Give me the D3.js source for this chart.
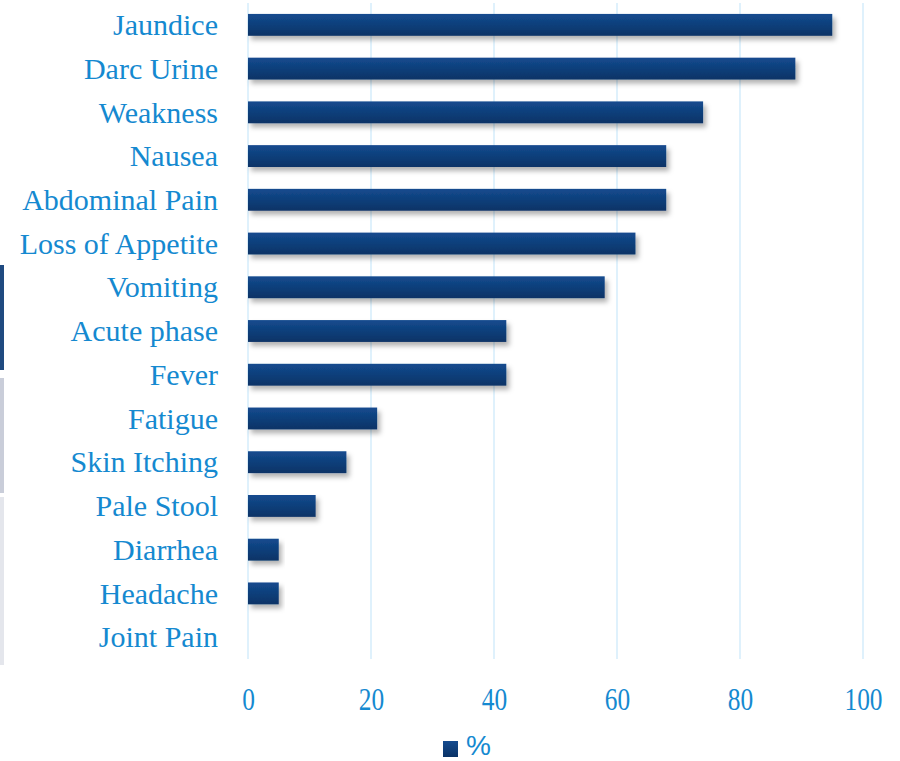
<!DOCTYPE html>
<html>
<head>
<meta charset="utf-8">
<script src="https://cdnjs.cloudflare.com/ajax/libs/d3/7.8.5/d3.min.js"></script>
<style>
  body { margin: 0; background: #fff; }
  svg { display: block; }
</style>
</head>
<body>
<div id="chart"></div>
<script>
const symptoms = ['Jaundice', 'Darc Urine', 'Weakness', 'Nausea', 'Abdominal Pain',
  'Loss of Appetite', 'Vomiting', 'Acute phase', 'Fever', 'Fatigue',
  'Skin Itching', 'Pale Stool', 'Diarrhea', 'Headache', 'Joint Pain']
const percent = [95, 89, 74, 68, 68, 63, 58, 42, 42, 21, 16, 11, 5, 5, 0]
const xTicks = [0, 20, 40, 60, 80, 100]
const seriesName = '%'

const width = 900
const height = 761
const margin = {top: 3, right: 37, bottom: 102, left: 248}
const textColor = '#1589d0'
const font = '"Liberation Serif", "DejaVu Serif", serif'

const svg = d3.select('#chart').append('svg')
  .attr('width', width)
  .attr('height', height)

// gradient + shadow for bars
const defs = svg.append('defs')
const grad = defs.append('linearGradient')
  .attr('id', 'barGrad')
  .attr('x1', 0).attr('y1', 0).attr('x2', 0).attr('y2', 1)
grad.append('stop').attr('offset', '0%').attr('stop-color', '#144b8f')
grad.append('stop').attr('offset', '100%').attr('stop-color', '#0a3366')
const shadow = defs.append('filter').attr('id', 'shadow')
  .attr('x', '-10%').attr('y', '-30%').attr('width', '130%').attr('height', '190%')
shadow.append('feDropShadow')
  .attr('dx', 3).attr('dy', 4).attr('stdDeviation', 2.5)
  .attr('flood-color', '#000').attr('flood-opacity', 0.3)

// stray strips at the left edge of the picture
const strips = [
  {y0: 265, y1: 370, c: '#1f4a80'},
  {y0: 378, y1: 493, c: '#c9cdd9'},
  {y0: 497, y1: 665, c: '#e4e6ec'}
]
svg.selectAll('.strip').data(strips).enter().append('rect')
  .attr('x', 0).attr('width', 4)
  .attr('y', d => d.y0).attr('height', d => d.y1 - d.y0)
  .attr('fill', d => d.c)

const x = d3.scaleLinear()
  .domain([0, 100])
  .range([margin.left, width - margin.right])

const y = d3.scaleBand()
  .domain(symptoms)
  .range([margin.top, height - margin.bottom])
  .paddingInner(0.5)
  .paddingOuter(0.25)

// grid lines
svg.append('g')
  .selectAll('line')
  .data(xTicks)
  .enter().append('line')
    .attr('x1', d => x(d)).attr('x2', d => x(d))
    .attr('y1', margin.top).attr('y2', height - margin.bottom)
    .attr('stroke', '#d4edfb')
    .attr('stroke-width', 1.5)

// bars
svg.append('g')
  .selectAll('rect')
  .data(symptoms)
  .enter().append('rect')
    .attr('x', x(0))
    .attr('y', d => y(d))
    .attr('width', (d, i) => x(percent[i]) - x(0))
    .attr('height', y.bandwidth())
    .attr('fill', 'url(#barGrad)')
    .attr('filter', (d, i) => percent[i] > 0 ? 'url(#shadow)' : null)

// category labels
const yAxis = svg.append('g')
  .attr('transform', 'translate(' + (margin.left - 30) + ',0)')
  .call(d3.axisLeft(y).tickSize(0).tickPadding(0))
yAxis.select('.domain').remove()
yAxis.selectAll('text')
  .attr('fill', textColor)
  .attr('dy', '0.34em')
  .style('font-family', font)
  .style('font-size', '30px')

// value axis (digits look squeezed in the original)
const xAxis = svg.append('g')
  .attr('transform', 'translate(0,' + (height - margin.bottom) + ')')
  .call(d3.axisBottom(x).tickValues(xTicks).tickSize(0).tickPadding(29))
xAxis.select('.domain').remove()
xAxis.selectAll('text')
  .attr('fill', textColor)
  .attr('transform', 'scale(0.82,1)')
  .style('font-family', font)
  .style('font-size', '31px')

// legend
const legend = svg.append('g').attr('transform', 'translate(443,741)')
legend.append('rect')
  .attr('width', 15).attr('height', 16)
  .attr('fill', 'url(#barGrad)')
legend.append('text')
  .attr('x', 23).attr('y', 14)
  .attr('fill', textColor)
  .style('font-family', '"Liberation Sans Narrow", "Liberation Sans", sans-serif')
  .style('font-size', '28px')
  .text(seriesName)
</script>
</body>
</html>
